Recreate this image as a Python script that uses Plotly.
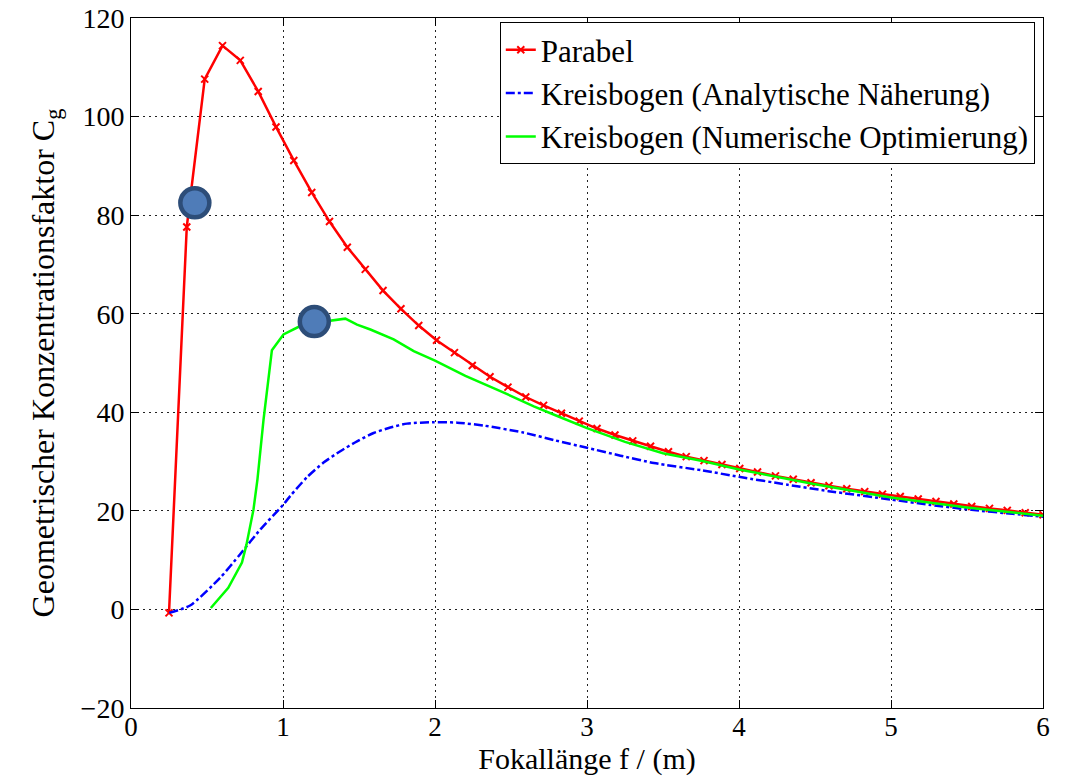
import plotly.graph_objects as go

# ---- data ----
parabel_x = [0.25, 0.367, 0.485, 0.602, 0.719, 0.837, 0.954, 1.071, 1.189, 1.306,
             1.423, 1.541, 1.658, 1.776, 1.893, 2.010, 2.128, 2.245, 2.362, 2.480,
             2.597, 2.714, 2.832, 2.949, 3.066, 3.184, 3.301, 3.418, 3.536, 3.653,
             3.770, 3.888, 4.005, 4.122, 4.240, 4.357, 4.474, 4.592, 4.709, 4.827,
             4.944, 5.061, 5.179, 5.296, 5.413, 5.531, 5.648, 5.765, 5.883, 6.0]
parabel_y = [-0.7, 77.6, 107.6, 114.4, 111.4, 105.1, 97.9, 91.1, 84.6, 78.7,
             73.5, 69.0, 64.7, 61.0, 57.6, 54.6, 52.1, 49.5, 47.2, 45.1,
             43.1, 41.4, 39.8, 38.2, 36.7, 35.4, 34.2, 33.1, 32.0, 31.0,
             30.2, 29.4, 28.6, 27.9, 27.1, 26.4, 25.7, 25.1, 24.5, 23.9,
             23.4, 22.9, 22.4, 21.9, 21.4, 20.9, 20.5, 20.1, 19.6, 19.2]

analytic_x = [0.252, 0.389, 0.586, 0.718, 0.85, 1.003, 1.047, 1.157, 1.267, 1.377,
              1.487, 1.596, 1.706, 1.816, 1.99, 2.146, 2.32, 2.58, 2.79, 3.0,
              3.22, 3.44, 3.76, 4.0, 4.32, 4.59, 5.0, 5.26, 5.53, 5.8, 6.0]
analytic_y = [-0.7, 0.8, 6.4, 11.2, 16.2, 21.3, 23.0, 26.8, 29.8, 32.1,
              34.1, 35.8, 36.9, 37.7, 38.0, 37.9, 37.3, 35.9, 34.3, 32.8,
              31.2, 29.7, 28.2, 26.9, 25.3, 24.0, 22.3, 21.2, 20.2, 19.4, 18.8]

numeric_x = [0.525, 0.64, 0.73, 0.76, 0.806, 0.832, 0.872, 0.927, 1.003, 1.1,
             1.2, 1.311, 1.41, 1.487, 1.575, 1.728, 1.86, 2.0, 2.2, 2.43,
             2.65, 2.8, 3.0, 3.25, 3.5, 3.76, 4.0, 4.5, 5.0, 5.5, 6.0]
numeric_y = [0.3, 4.4, 9.5, 13.2, 20.3, 26.4, 38.5, 52.6, 55.8, 57.3,
             58.1, 58.5, 59.0, 57.8, 56.8, 54.8, 52.4, 50.5, 47.4, 44.3,
             41.2, 39.3, 36.8, 34.0, 31.7, 30.1, 28.4, 25.4, 22.7, 20.7, 19.0]

highlight_x = [0.42, 1.206]
highlight_y = [82.5, 58.4]

x_ticks = [0, 1, 2, 3, 4, 5, 6]
y_ticks = [-20, 0, 20, 40, 60, 80, 100, 120]

FONT = "Liberation Serif, Times New Roman, serif"

fig = go.Figure()
fig.add_trace(go.Scatter(
    x=parabel_x, y=parabel_y, mode="lines+markers", name="Parabel",
    line=dict(color="#ff0000", width=2.5),
    marker=dict(symbol="x-thin", size=7, line=dict(color="#ff0000", width=2), color="#ff0000"),
))
fig.add_trace(go.Scatter(
    x=analytic_x, y=analytic_y, mode="lines", name="Kreisbogen (Analytische Näherung)",
    line=dict(color="#0000ff", width=2.5, dash="dashdot", shape="spline", smoothing=0.6),
))
fig.add_trace(go.Scatter(
    x=numeric_x, y=numeric_y, mode="lines", name="Kreisbogen (Numerische Optimierung)",
    line=dict(color="#00ff00", width=2.5),
))
fig.add_trace(go.Scatter(
    x=highlight_x, y=highlight_y, mode="markers", showlegend=False,
    marker=dict(size=29, color="#4f7cb8", line=dict(color="#2d4d78", width=4.5)),
))

axis_common = dict(
    showline=True, linecolor="black", linewidth=1, mirror="ticks",
    ticks="inside", ticklen=8, tickcolor="black",
    showgrid=True, gridcolor="#222222", griddash="2px,4px", gridwidth=1,
    zeroline=False,
    automargin=False,
)

fig.update_xaxes(range=[0, 6], tickvals=x_ticks,
                 tickfont=dict(family=FONT, size=27, color="black"),
                 ticklabelstandoff=-5,
                 title=dict(text="Fokallänge f / (m)", font=dict(family=FONT, size=30, color="black"), standoff=0),
                 **axis_common)
fig.update_yaxes(range=[-20, 120], tickvals=y_ticks,
                 tickfont=dict(family=FONT, size=28, color="black"),
                 title=dict(text="Geometrischer Konzentrationsfaktor C<sub>g</sub>",
                            font=dict(family=FONT, size=32, color="black"), standoff=16),
                 **axis_common)

fig.update_layout(
    width=1068, height=779,
    margin=dict(l=131, r=25, t=18, b=71),
    plot_bgcolor="white", paper_bgcolor="white",
    font=dict(family=FONT, color="black"),
    legend=dict(x=0.991, y=0.994, xanchor="right", yanchor="top",
                bgcolor="white", bordercolor="black", borderwidth=1,
                font=dict(family=FONT, size=31, color="black"),
                itemwidth=30, tracegroupgap=0),
)

fig.write_html("out.html")
